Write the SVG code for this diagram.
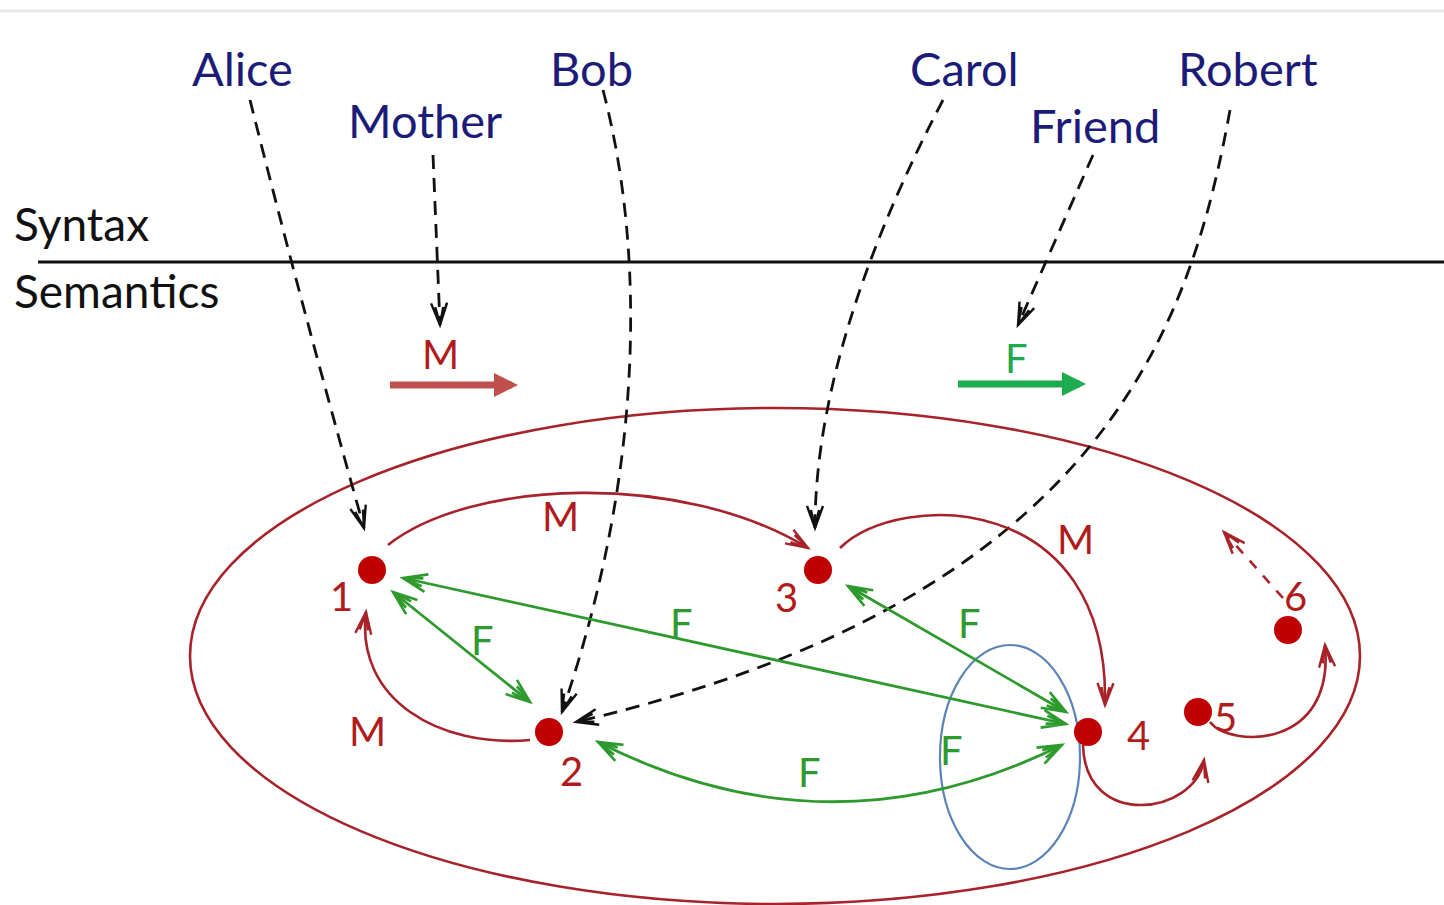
<svg xmlns="http://www.w3.org/2000/svg" width="1444" height="905" viewBox="0 0 1444 905">
<style>
.name{font-family:Lato,"Open Sans",sans-serif;font-size:47px;fill:#1c1c78}
.lab{font-family:Lato,"Open Sans",sans-serif;font-size:46px;fill:#111}
.rl{font-family:Lato,"Open Sans",sans-serif;font-size:40px;fill:#b01c1c}
.gl{font-family:Lato,"Open Sans",sans-serif;font-size:40px;fill:#2e9a2e}
.dash{fill:none;stroke:#111;stroke-width:2.8;stroke-dasharray:14 9}
.red{fill:none;stroke:#a8222a;stroke-width:2.6}
.grn{fill:none;stroke:#2e9a2e;stroke-width:2.8}
.node{fill:#c00000}
</style>
<defs>
<marker id="ak" markerUnits="userSpaceOnUse" orient="auto" refX="0" refY="0" overflow="visible">
<path d="M-22,-8 L0,0 L-22,8 M-18,-4 L0,0 L-18,4" fill="none" stroke="#111" stroke-width="2.4" stroke-dasharray="none"/>
</marker>
<marker id="ar" markerUnits="userSpaceOnUse" orient="auto" refX="0" refY="0" overflow="visible">
<path d="M-22,-8 L0,0 L-22,8 M-18,-4 L0,0 L-18,4" fill="none" stroke="#a8222a" stroke-width="2.4" stroke-dasharray="none"/>
</marker>
<marker id="ag" markerUnits="userSpaceOnUse" orient="auto-start-reverse" refX="0" refY="0" overflow="visible">
<path d="M-24,-9 L0,0 L-24,9 M-20,-4 L0,0 L-20,4" fill="none" stroke="#2e9a2e" stroke-width="2.6"/>
</marker>
<marker id="lr" markerUnits="userSpaceOnUse" orient="auto" refX="0" refY="0" overflow="visible">
<path d="M-18,-12 L6,0 L-18,12 Z" fill="#c0504d"/>
</marker>
<marker id="lg" markerUnits="userSpaceOnUse" orient="auto" refX="0" refY="0" overflow="visible">
<path d="M-18,-12 L6,0 L-18,12 Z" fill="#1eaa4f"/>
</marker>
</defs>
<rect width="1444" height="905" fill="#fff"/>
<line x1="0" y1="11" x2="1444" y2="11" stroke="#e8e8e8" stroke-width="3"/>
<g id="divider">
<line x1="38" y1="262" x2="1444" y2="262" stroke="#111" stroke-width="3"/>
<text class="lab" x="14" y="241">Syntax</text>
<text class="lab" x="14" y="308">Semantics</text>
</g>
<g id="names">
<text id="alice" class="name" x="192" y="86">Alice</text>
<text id="mother" class="name" x="348" y="138">Mother</text>
<text id="bob" class="name" x="550" y="86">Bob</text>
<text id="carol" class="name" x="910" y="86">Carol</text>
<text id="friend" class="name" x="1030" y="143">Friend</text>
<text id="robert" class="name" x="1178" y="86">Robert</text>
</g>
<g id="legend">
<line x1="390" y1="385" x2="512" y2="385" stroke="#c0504d" stroke-width="7" marker-end="url(#lr)"/>
<text class="rl" x="422" y="369">M</text>
<line x1="958" y1="384" x2="1080" y2="384" stroke="#1eaa4f" stroke-width="7" marker-end="url(#lg)"/>
<text class="gl" x="1005" y="373" style="fill:#1eaa4f">F</text>
</g>
<g id="universe">
<ellipse cx="775" cy="656" rx="585" ry="248" fill="none" stroke="#a8222a" stroke-width="2.6"/>
<ellipse cx="1010" cy="757" rx="70" ry="112" fill="none" stroke="#5b84b8" stroke-width="2.2"/>
</g>
<g id="connectors">
<path class="dash" d="M250,100 Q300,300 364,528" marker-end="url(#ak)"/>
<path class="dash" d="M433,155 L440,325" marker-end="url(#ak)"/>
<path class="dash" d="M603,90 C645,250 645,470 562,712" marker-end="url(#ak)"/>
<path class="dash" d="M943,100 C880,220 815,380 815,528" marker-end="url(#ak)"/>
<path class="dash" d="M1093,155 L1018,325" marker-end="url(#ak)"/>
<path class="dash" d="M1230,110 C1190,330 1100,600 576,722" marker-end="url(#ak)"/>
<path class="red" d="M388,545 C470,480 680,470 808,548" marker-end="url(#ar)"/>
<path class="red" d="M840,548 C900,490 1110,490 1105,705" marker-end="url(#ar)"/>
<path class="red" d="M530,740 C440,748 355,700 366,612" marker-end="url(#ar)"/>
<path class="red" d="M1083,745 C1085,830 1195,815 1204,760" marker-end="url(#ar)"/>
<path class="red" d="M1210,722 C1230,748 1335,750 1325,645" marker-end="url(#ar)"/>
<path class="red" d="M1283,598 L1224,532" stroke-dasharray="10 10" marker-end="url(#ar)"/>
<line class="grn" x1="393" y1="592" x2="530" y2="702" marker-start="url(#ag)" marker-end="url(#ag)"/>
<line class="grn" x1="403" y1="578" x2="1066" y2="724" marker-start="url(#ag)" marker-end="url(#ag)"/>
<line class="grn" x1="848" y1="586" x2="1066" y2="712" marker-start="url(#ag)" marker-end="url(#ag)"/>
<path class="grn" d="M598,742 Q830,860 1062,745" marker-start="url(#ag)" marker-end="url(#ag)"/>
<text class="rl" x="542" y="531">M</text>
<text class="rl" x="1057" y="554">M</text>
<text class="rl" x="349" y="746">M</text>
<text class="gl" x="471" y="655">F</text>
<text class="gl" x="670" y="638">F</text>
<text class="gl" x="958" y="638">F</text>
<text class="gl" x="798" y="787">F</text>
<text class="gl" x="940" y="765">F</text>
</g>
<g id="n1"><circle class="node" cx="372" cy="570" r="14"/><text class="rl" x="330" y="611">1</text></g>
<g id="n2"><circle class="node" cx="549" cy="732" r="14"/><text class="rl" x="560" y="786">2</text></g>
<g id="n3"><circle class="node" cx="818" cy="570" r="14"/><text class="rl" x="775" y="612">3</text></g>
<g id="n4"><circle class="node" cx="1088" cy="732" r="14"/><text class="rl" x="1127" y="750">4</text></g>
<g id="n5"><circle class="node" cx="1198" cy="712" r="14"/><text class="rl" x="1214" y="732">5</text></g>
<g id="n6"><circle class="node" cx="1288" cy="630" r="14"/><text class="rl" x="1284" y="611">6</text></g>
</svg>
